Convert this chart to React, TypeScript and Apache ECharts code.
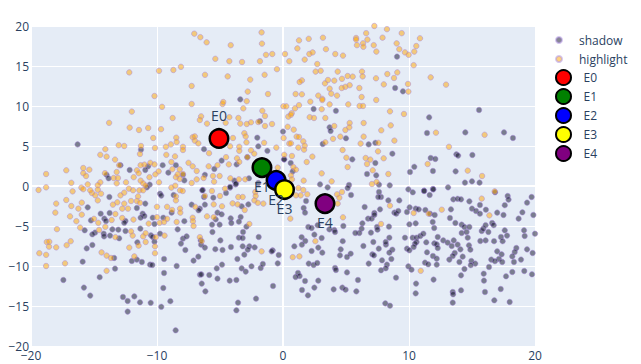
import React, { useEffect, useRef } from "react";
import * as echarts from "echarts";

const xTicks = { min: -20, max: 20, interval: 10 };
const yTicks = { min: -20, max: 20, interval: 5 };

const highlight: number[][] = [
[-7.04,19.04],[-6.56,18.6],[-6.06,17.96],[-4.15,17.6],[-1.7,19.2],[-1.67,17.8],[-1.35,16.4],[-0.85,16.5],[0.16,16.5],[0.5,15.6],[-5.37,15.9],[-4.26,15.6],[-3.25,15.5],[-1.83,15.6],[-0.48,14.6],[-12.2,14.2],[-9.84,14.4],[-8.7,14.5],[-8.1,14.9],[-6.19,13.9],[-4.39,13.7],[-2.6,13.3],[-1.46,13.9],[-7.25,12.5],[-2.8,11.8],[-1.19,11.5],[-10.2,11.25],[-9.6,9.9],[-7.25,10.25],[-4.8,10.25],[-4.74,10.5],[-2.88,10.6],[-3.15,9.7],[0.03,9.96],[0.26,9.96],[-12,9.3],[-1.64,9.4],[-1.43,8.75],[0.42,8.67],[-8.76,8.5],[-6.5,8.7],[-6.6,8.25],[-4.26,8.6],[-3.54,8.5],[-13.8,7.9],[-6.03,7.8],[-4.55,7.9],[-3.39,7.8],[-2.88,7.75],[-2.54,7.96],[-1.96,8],[-0.87,7.75],[-1.43,7.5],[0.37,7.4],[-12.17,7.3],[-11.43,7],[-10.7,7.25],[-9.68,7.1],[-3.07,6.6],[-2.96,6.2],[-10.3,6],[-8.47,6.04],[-8.44,5.5],[-7.17,6.1],[-7,6.2],[-7,5.67],[-6.72,5.33],[-3.97,6],[-2.9,5.46],[0.05,6],[0.5,5.3],[-1.5,5.4],[-13.04,5.1],[-12.6,5],[-11.27,5],[-8.9,5.2],[-9.3,4.9],[-10.16,4.75],[-7.94,4.9],[-7.94,4.5],[-4.2,4.96],[-3.47,4.9],[-3.47,4.4],[-0.53,4.8],[-14.1,4.6],[-5.87,4.1],[-2.54,4.46],[-2.28,4.04],[-14.5,3.9],[-14,3.67],[-11.35,4],[-9.26,3.9],[-8.57,3.7],[-13.33,3.3],[-4.52,3.6],[-3.65,3.46],[-2.83,3.6],[0.1,3.9],[-7.5,2.9],[-8.86,3],[-10.53,2.9],[-11,2.67],[-11.3,2.6],[-10.2,2.7],[-13,2.6],[-7.17,2.46],[-4.3,2.7],[-5.2,2.6],[-5.9,2.46],[-3.47,3],[-15.85,2.25],[-15.37,2.04],[-17.2,1.96],[-18.8,1.5],[-15.85,1.6],[-15.63,1.25],[-14.13,1.6],[-13.2,1.75],[-9.87,1.83],[-10.13,1.46],[-8.2,2.08],[-6.85,1.875],[-8.78,2.1],[-7.94,1.5],[-11.6,1.96],[-11.45,1.6],[-11.85,1.1],[-13.44,1],[-13.1,1],[-10.6,1.1],[-8.5,1.1],[-8.36,1.46],[-8.2,0.875],[-6.85,0.83],[-6.3,1],[-5.56,1.25],[-5.03,1.25],[-4.18,0.96],[-3.5,0.83],[-3,0.83],[-0.42,2.3],[-16.8,0.4],[-14.5,0.46],[-15.5,0.2],[-14.7,0.1],[-13.2,0.33],[-12.46,0.46],[-9.84,0.46],[-11.3,0.67],[-11.1,0.33],[-10.9,0.05],[-7.25,0.375],[-5.47,0.54],[-8.55,0.04],[-8.86,-0.2],[-16,-0.2],[-15.85,-0.4],[-19.4,-0.5],[-18.8,-0.17],[-16.7,-0.67],
[-18,-2.2],[-18.07,-3.33],[-17.2,-1.75],[-16.8,-2.5],[-16.9,-3.8],[-16.4,-4.4],[-15.97,-2.08],[-16.24,-2.83],[-15.97,-3.58],[-16.1,-5.2],[-17.94,-5.4],[-18.75,-7],[-18.55,-6.96],[-18.57,-7.58],[-16.85,-6.9],[-17.17,-7.4],[-18,-7.67],[-19.34,-8.4],[-18.8,-8.6],[-17.3,-9.67],[-18.8,-10],[-14,-10.6],[-14.4,-8.3],[-14,-8.7],[-13.65,-9],[-11.8,-8.8],[-12.2,-7.7],[-11.46,-7.46],[-10.16,-8.4],[-10.16,-7.54],[-10.9,-7],[-11.1,-6.3],[-10.1,-6.4],[-9.4,-6.2],[-11.93,-6.2],[-12.06,-5.67],[-13.3,-6.4],[-14.1,-5.1],[-14.6,-5.5],[-10.9,-5.9],[-15,-4.1],[-14.66,-4.6],[-13.6,-4.25],[-13.3,-3.5],[-12.76,-4],[-11.87,-4.2],[-10.66,-4.7],[-9.8,-4.6],[-9.2,-4.1],[-9.44,-4.5],[-10,-3.9],[-10,-2.6],[-9.2,-2.6],[-8.8,-3],[-8.17,-2.83],[-8.15,-3.33],[-7.17,-3.96],[-7.15,-4.4],[-7.1,-5],[-8.44,-4.5],[-6.03,-3.8],[-5.5,-3.9],[-6.96,-2.6],[-6.6,-6.4],[-6.45,-6.9],[-2.67,-4.75],[-1.7,-8.17],[-3.04,-3],[-4,-2.17],[-3.6,-2.3],[-5.5,-2.3],[-4.84,-2.54],[-5,-1.25],[-5.64,-0.625],[-4.6,-0.33],[-3.55,-1.375],[-3.2,-1.375],[-6.2,-1.25],[-8.5,-1.3],[-8.5,-1.8],[-12.6,-0.83],[-12.9,-1.17],[-13.15,-2.04],[-13.5,-2.33],[-12.3,-2.83],[-12.76,-2.83],[-12.6,-2.2],[-14.7,-1.8],[-14.9,-1.17],[-15.16,-0.875],[-14.44,-0.96],[-14.7,-0.46],[-15.3,-0.54],[-11.9,-0.54],[-11.4,-0.54],[-11.1,-0.54],[-11.5,-1.3],[-12.23,-0.33],[-12.06,-1.875],[-11.6,-1.875],[-11.35,-2.1],[-2.2,-0.75],[-2.17,-1.25],[-2.27,-1.8],[-2,-2.1],[-1.56,-2.2],[-8.17,-0.54],[-7.96,-0.625],
[7.25,20],[8.25,19.6],[9.42,19.1],[6.6,19.1],[7.9,18.54],[10.87,18.46],[3.17,18.54],[2.04,18.4],[1.27,18.2],[5.8,18.5],[5.8,18.3],[6.7,18.3],[9.02,17.83],[6.35,17.83],[5.87,17.6],[6.38,17.4],[7.2,17.6],[10.58,17.5],[1.14,17.2],[3.41,17.1],[9.23,17.1],[7.41,16.8],[9.68,16.7],[10.42,16.8],[9.97,16.4],[2.09,16.5],[2.35,16.7],[4.15,16.5],[4.76,16.3],[1.72,15.8],[2.72,15.25],[10.37,15.1],[2.59,14.3],[2.99,14.4],[4.34,14.3],[6.27,14.3],[6.32,13.7],[9.07,14.2],[8.28,14],[5.13,13.75],[5.53,13.67],[4.68,13.4],[4.07,13.17],[3.57,13.25],[3.33,12.83],[1.5,13.2],[1.32,13],[7.38,13.46],[8.81,13.5],[11.72,13.58],[8,12.7],[9.92,12.75],[12.94,12.67],[5.29,12.6],[4.95,12.4],[4.66,12.25],[3.7,12.17],[6.06,12.25],[9.95,11.8],[1,11.5],[1.5,11.46],[3.83,11.54],[4.29,11.3],[2.8,11.3],[3.12,10.9],[3.12,10.75],[6.24,11.125],[7.4,10.75],[2.17,10.54],[3.7,10.2],[5.18,10.2],[6.08,10],[6.35,10],[1.27,10.1],[0.95,9.7],[3.07,9.6],[0.69,9.1],[0.63,8.9],[8.49,9.33],[9.6,9],[2.12,8.6],[2.46,8.5],[3.36,8.5],[5.29,7.875],[6.4,7.875],[8.55,7.58],[4.07,7.5],[5.26,7.33],[4.95,7],[7.8,6.96],[0.85,7.04],[12.14,6.67],[16,6.4],[6.4,6.17],[3.97,5.9],[4.55,6.17],[1.08,6.17],[1.27,6.125],[1.61,5.58],[1.72,5.04],[1.67,4.54],[1.22,4.8],[0.63,5.33],[3.36,5.46],[6.16,5.3],[7.57,5.4],[8.84,5.67],[13.17,4.9],[4.73,4.5],[7.54,4.33],[2.33,3.67],[0.71,3.75],[5.03,3.54],[6.56,3.5],[6.93,3.3],[7.99,3.46],[1.88,3],[6.67,2.75],[11.48,2.75],[5.13,2.375],[0.82,2.375],[1.03,2.04],[14.66,1.92],[7.12,1.96],[3.07,1.58],[8.36,1.5],[15.8,1.25],[0.63,1.33],[0.71,0.83],[1.64,0.67],[3.86,0.58],[7.43,0.5],[7.06,0.25],[1.22,-0.25],[1.61,-0.5],[16.8,-0.67],
[1.03,-1.17],[1.4,-1.17],[1.93,-1.04],[4.29,-1.04],[4.68,-0.75],[4.47,-1.46],[4.34,-2.2],[15.77,-1.58],[8.49,-2.46],[12.6,-2.96],[10.37,-3.375],[11.56,-3.46],[16.38,-3.67],[4.76,-3.92],[0.58,-4.08],[7.78,-4.75],[2.57,-6.9],[1.3,-8.8],[0.77,-8.9],[10.93,-10.6],
];

const shadow: number[][] = [
[-16.3,5.2],[-3.39,10.83],[-1.83,8.1],[-2.04,6.04],[0,6.8],[-1.96,4.96],[-1.24,4.4],[0.08,3.33],[-11.27,4.54],[-6.27,4.6],[-4.87,3.17],[-3.68,2.7],[-2.83,3.6],[-12.9,2.6],[-10.7,2.46],[-9.55,2.6],[-8.5,2.6],[-12.17,2],[-10.93,2],[-5.45,2.125],[-9.1,1.67],[-14,1.4],[-13.84,0.96],[-7.94,1.4],[-7.83,0.7],[-3.86,0.67],[-2.7,0.96],[-3.76,0.2],[-4.2,-0.2],[-10.58,0.17],[-10.8,-0.17],[-1.96,0.375],[-6.375,-0.5],[-6.2,1.4],
[9.05,16.17],[8.9,12.25],[9.52,11.83],[2.43,9.625],[4.2,9.4],[15.56,9.5],[11.6,8.58],[3.7,7.33],[3.78,6.875],[11.43,6.625],[14.47,6.7],[17.54,6.7],[18.25,6],[5,5.96],[3.15,5.25],[6.8,5.2],[7.33,5.4],[8.68,4.04],[13.76,3.96],[13.9,3.8],[15.03,3.875],[11.72,3.5],[12.09,3.375],[5.5,3.33],[7.33,2.875],[10.42,2.4],[10.08,1.75],[11.9,1.875],[13.7,1.83],[6.67,1.5],[7.4,1.33],[14.44,0.42],[15,0.58],[15.6,0.42],[2.94,0.2],[3.54,-0.17],[5.24,0.125],[5.13,-0.25],[7.62,0.17],[8.47,0.08],[13.1,-0.17],[9.95,-0.42],[11.2,-0.58],[11.9,-0.375],[0.61,2.875],[0.1,3.33],[0.77,1.83],
[-6.4,-0.54],[-9.76,-0.96],[-9.66,-1.2],[-8.68,-1.125],[-13.78,-1.375],[-10.93,-2.2],[-7.25,-2.33],[-6.6,-2.83],[-6.7,-3.04],[-6.2,-2.33],[-5.53,-1.46],[-6.27,-1.375],[-4.52,-0.875],[-4.2,-0.125],[-3.73,0.3],[-2.75,-2.3],[-3.28,-2.54],[-15.5,-2.67],[-8.84,-3.33],[-11.6,-2.75],[-14.47,-3.46],[-13.76,-3.375],[-11.14,-3.46],[-11,-3.75],[-11.3,-3.96],[-10.34,-3.96],[-9.5,-3.96],[-15.24,-4.3],[-14.18,-4.08],[-14.05,-4.375],[-12.5,-4.375],[-12.6,-4.6],[-10.2,-4.75],[-7.83,-4.4],[-5.2,-3.33],[-4.87,-3.54],[-5.34,-4.17],[-5.63,-4.83],[-5.03,-4.83],[-4.15,-4.04],[-4.1,-4.625],[-3.36,-3.875],[-3.5,-4.46],[-2.9,-5.08],[-3.17,-5.75],[-3.5,-6.46],[-3.2,-6.5],[-5.6,-5.75],[-1.93,-6.375],[-4.97,-6.8],[-15.74,-5.54],[-14.92,-5.83],[-15.13,-6.04],[-13.54,-5.42],[-13.07,-5.46],[-12.5,-5.625],[-11.32,-5.33],[-14.23,-5.96],[-14.2,-6.3],[-13.73,-6.2],[-13,-6.54],[-10.48,-6.17],[-10.34,-6.375],[-9.76,-5.96],[-8.36,-5.42],[-15.13,-7.375],[-15.58,-7.8],[-11.56,-7.04],[-10.2,-6.96],[-7.94,-6.58],[-7.65,-6.3],[-8.1,-7.2],[-7.75,-8],[-6.53,-6.8],[-6.5,-7.33],[-6.2,-7.7],[-5.37,-7.9],[-4.8,-8],[-4.13,-7.625],[-3.2,-7.54],[-2.67,-7.54],[-2.8,-7.96],[-2.25,-7.67],[-3.07,-8.58],[-3.62,-9.125],[-0.82,-8.04],[-0.9,-8.17],[-0.34,-8.625],[-0.42,-9.67],[-15.9,-9.46],[-13.4,-9],[-9.44,-9.125],[-12,-9.375],[-11.6,-9.2],[-11.2,-9.5],[-10.55,-9.83],[-10.37,-9.875],[-8.44,-10],[-7.1,-9.33],[-6.72,-8.83],[-4.84,-9.83],[-5.26,-10.3],[-2.5,-10.04],[-3.28,-10.3],[-2.96,-10.7],[-1.77,-10.25],[-1.6,-9.75],[-13.33,-10.33],[-9.44,-10.875],[-14.55,-11.4],[-17.43,-11.75],[-6.59,-11.08],[-6.48,-11.05],[-5.85,-11.125],[-5.2,-11.58],[-4.23,-11.83],[-3.7,-11.75],[-6.45,-12.2],[-9.5,-12.75],[-15.8,-12.7],[-6.16,-13.17],[-0.79,-12.5],[-15.3,-13.7],[-12.7,-13.875],[-11.8,-13.8],[-12.33,-14.375],[-11.35,-14.54],[-10.5,-14.6],[-8.94,-14.4],[-9.66,-15.1],[-12.33,-15.7],[-8.52,-18.04],[-2.14,-14.08],[-3.57,-14.58],[-3.7,-15.54],
[7.62,-0.75],[7.78,-1.375],[7.56,-1.375],[5.4,-1.125],[1.83,-1.875],[1.64,-2.75],[1.75,-3.33],[6.48,-2.625],[8.36,-1.8],[9.23,-1.8],[7.7,-2.92],[7.25,-3.375],[8.84,-3.33],[8.99,-3.46],[9.15,-3.125],[9.84,-3.25],[10.05,-2.67],[10.53,-2.83],[10.77,-2.92],[10.3,-0.79],[11.2,-0.625],[11.64,-1.125],[11.93,-0.42],[11.3,-3],[11.67,-3.46],[12.04,-3.625],[13.33,-2.92],[13.25,-4],[13.52,-1.67],[13.86,-1.6],[14.13,-1.67],[14.79,-1.92],[15,-2.83],[15.32,-3.125],[15.63,-3.46],[15.63,-2.375],[16.1,-2.96],[16.83,-0.79],[17.83,-1.25],[17.9,-1.7],[17.6,-2.4],[19.37,-2.08],[19.73,-1.375],[19,-3.29],[18.7,-4.08],[19.87,-3.625],[17,-3.33],[17.5,-3.625],[6.75,-4.08],[7.04,-4.08],[7.25,-3.62],[7.46,-5.125],[7.5,-5.46],[8.41,-5.08],[6.3,-4.67],[6.24,-5.33],[6.06,-5.875],[5.74,-5.875],[6.98,-5.83],[4.79,-5],[4.07,-5.5],[4.13,-5.75],[3.68,-5.42],[2.75,-4.9],[2.01,-5.125],[2.27,-5.25],[2.49,-6.08],[3.07,-6.5],[1.48,-6.4],[1.77,-6.875],[1.5,-7.33],[0.9,-7.54],[4.74,-6.9],[2.8,-7.7],[2.27,-8.125],[3.12,-8.33],[4.58,-7.92],[4.52,-8.67],[5.37,-8.46],[5.08,-8.875],[6.38,-7.5],[7.17,-7],[7.6,-7.83],[7.09,-8.54],[7.22,-8.67],[8.17,-7.33],[8.15,-7],[8.44,-6.46],[8.68,-7.96],[8.44,-8.33],[8.6,-9.125],[7.86,-9.29],[6.8,-9.7],[8.25,-9.83],[8.15,-10.29],[7.78,-10.54],[2.04,-9.7],[2.43,-9.875],[2.72,-9.625],[4.13,-10.25],[4.2,-10.5],[5.08,-10.8],[1.19,-10.875],[1.32,-11.25],[1,-11.375],[2.8,-11.83],[1.75,-11.875],[5.95,-11.75],[8.97,-11.46],[1.51,-13],[2.49,-12.7],[1.98,-13.67],[4.02,-12.92],[4.71,-12.7],[4.97,-12.96],[5.82,-13.17],[8.12,-14.67],[8.49,-14.96],[10.56,-12.2],[10.53,-13.42],[9.68,-6.46],[10.29,-6.46],[10.6,-6.46],[10.9,-6.25],[11.14,-5.96],[10.6,-7],[10.48,-7.2],[10.37,-7.625],[9.84,-7.83],[10.03,-8.04],[11.37,-7.04],[12.28,-6.375],[12.01,-7.17],[12.2,-7.29],[12.28,-7.75],[11.43,-8.29],[11.9,-8.75],[12.2,-9.08],[11.27,-9.58],[11.53,-9.79],[12.2,-9.83],[9.95,-10.04],[10.2,-10.46],[11.95,-11.7],[11.88,-4.5],[12,-5.25],[10.03,-4.79],[10.53,-4.67],[12.72,-6.8],[13.07,-7.08],[13.55,-6.8],[13.39,-7.5],[13.86,-7.33],[14.08,-7.92],[13.63,-8.375],[13.47,-8.75],[13.2,-9.2],[14.26,-8.83],[14,-9.5],[13.68,-4.625],[14.18,-4.83],[14.4,-5.125],[14.18,-5.875],[14.57,-5.75],[14.66,-6.46],[14.76,-7.42],[14.87,-7.96],[14.79,-5.125],[15.77,-5.625],[15.9,-5.33],[16.08,-4.9],[15.66,-6.875],[16.08,-6.8],[16.3,-5.75],[16.75,-6.9],[16.6,-4.625],[16.72,-4.9],[17.3,-6.375],[17.43,-6.9],[17.6,-5.54],[17.78,-6.2],[17,-8.17],[17.35,-8.54],[16.53,-9.2],[17.14,-9.125],[17.4,-9.5],[16.82,-9.4],[16.35,-10.125],[15.93,-10.96],[15.95,-11.83],[16.03,-13.25],[14.95,-9.375],[15.26,-9.7],[14.9,-9.9],[14.4,-10.375],[14.13,-11.17],[13.47,-13.25],[13.5,-13.54],[13.47,-14.58],[14.13,-13.04],[16.77,-14.29],[17.99,-14.5],[17.28,-12.875],[17.7,-11.29],[18.2,-10.75],[19.15,-10.625],[19.76,-11.04],[18.52,-7.75],[18.39,-8.25],[18.2,-8.8],[18.33,-9.5],[18.89,-9.2],[19.37,-7.92],[19.81,-8.375],[19.13,-5.54],[19.18,-6.25],[20,-5.96],
];

const eNames = ["E0", "E1", "E2", "E3", "E4"];
const eX = [-5.08, -1.67, -0.55, 0.12, 3.33];
const eY = [5.94, 2.3, 0.7, -0.44, -2.2];
const eColors = ["red", "green", "blue", "yellow", "purple"];
const ePositions = ["top", "bottom", "bottom", "bottom", "bottom"];
const eDistances = [5, 1.5, 1.5, 1.5, 1.5];

const FONT = '"Open Sans", sans-serif';
const INK = "#2a3f5f";

export default function App() {
  const ref = useRef<HTMLDivElement>(null);
  useEffect(() => {
    document.body.style.margin = "0";
    const chart = echarts.init(ref.current!, undefined, { renderer: "svg" });
    const dots = (name: string, color: string, data: number[][]) => ({
      name,
      type: "scatter",
      z: 2,
      data,
      symbol: "circle",
      symbolSize: 5.5,
      clip: true,
      itemStyle: { color, opacity: 0.5, borderColor: "#a98be0", borderWidth: 1 },
    });
    chart.setOption({
      animation: false,
      backgroundColor: "#fff",
      textStyle: { fontFamily: FONT },
      grid: { left: 31, right: 106, top: 26, bottom: 18, show: true, backgroundColor: "#E5ECF6", borderWidth: 0 },
      xAxis: {
        type: "value",
        ...xTicks,
        axisLine: { show: false },
        axisTick: { show: false },
        splitLine: { lineStyle: { color: "#fff", width: 1 } },
        axisLabel: { color: INK, fontSize: 12, fontFamily: FONT, margin: 3, formatter: (v: number) => String(v).replace("-", "\u2212") },
      },
      yAxis: {
        type: "value",
        ...yTicks,
        axisLine: { show: false },
        axisTick: { show: false },
        splitLine: { lineStyle: { color: "#fff", width: 1 } },
        axisLabel: { color: INK, fontSize: 12, fontFamily: FONT, margin: 2, formatter: (v: number) => String(v).replace("-", "\u2212") },
      },
      legend: [
        {
          data: ["shadow", "highlight"],
          orient: "vertical",
          left: 550,
          top: 29,
          itemWidth: 30,
          itemHeight: 6,
          itemGap: 7,
          icon: "circle",
          selectedMode: false,
          textStyle: { color: INK, fontSize: 12, fontFamily: FONT },
        },
        {
          data: eNames,
          orient: "vertical",
          left: 550,
          top: 64,
          itemWidth: 30,
          itemHeight: 15,
          itemGap: 2,
          icon: "circle",
          selectedMode: false,
          textStyle: { color: INK, fontSize: 12, fontFamily: FONT },
        },
      ],
      series: [
        {
          name: "zero",
          type: "scatter",
          z: 1,
          data: [],
          markLine: {
            silent: true,
            z: 1,
            symbol: "none",
            label: { show: false },
            lineStyle: { color: "#fff", width: 2, type: "solid" },
            data: [{ xAxis: 0 }, { yAxis: 0 }],
          },
        },
        dots("shadow", "#0d0d26", shadow),
        dots("highlight", "#ffa500", highlight),
        ...eNames.map((name, i) => ({
          name,
          type: "scatter",
          z: 3,
          data: [[eX[i], eY[i]]],
          symbol: "circle",
          symbolSize: 18.5,
          itemStyle: { color: eColors[i], borderColor: "#000", borderWidth: 2.5, opacity: 1 },
          label: {
            show: true,
            position: ePositions[i],
            distance: eDistances[i],
            formatter: name,
            color: INK,
            fontSize: 14,
            fontFamily: FONT,
          },
        })),
      ],
    });
    return () => chart.dispose();
  }, []);
  return <div ref={ref} style={{ position: "absolute", left: 0, top: 0, width: 641, height: 364 }} />;
}
